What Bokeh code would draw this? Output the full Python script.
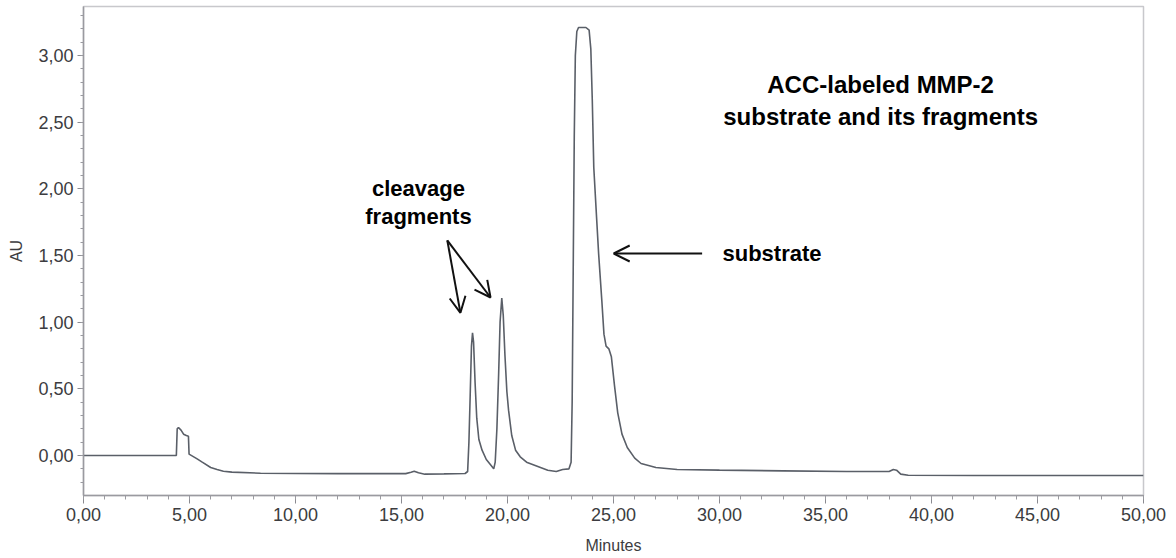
from bokeh.plotting import figure
from bokeh.models import (Range1d, SingleIntervalTicker, CustomJSTickFormatter,
                          Label, Arrow, OpenHead, ColumnDataSource)
from bokeh.embed import file_html
from bokeh.resources import INLINE

# ---- data ----
minutes = [0.0, 4.38, 4.42, 4.48, 4.6, 4.72, 4.85, 4.95, 4.98, 5.2, 5.36, 5.6, 6.0, 6.3, 6.6,
           7.0, 8.35, 10.0, 12.0, 15.2, 15.45, 15.6, 15.8, 16.1, 17.0, 18.0,
           18.12, 18.18, 18.24, 18.3, 18.35, 18.4, 18.47, 18.55, 18.65, 18.8, 19.0, 19.2, 19.35,
           19.42, 19.5, 19.58, 19.65, 19.73, 19.8, 19.88, 19.97, 20.05, 20.2, 20.38, 20.6, 20.9,
           21.4, 21.9, 22.3, 22.6, 22.9, 23.0,
           23.05, 23.1, 23.15, 23.2, 23.27, 23.35, 23.7, 23.85, 23.93, 24.0, 24.07, 24.2, 24.3,
           24.45, 24.55, 24.65, 24.78, 24.9, 25.05, 25.2, 25.4, 25.65, 26.0, 26.3, 27.0, 28.0,
           30.0, 33.0, 36.0, 38.0, 38.2, 38.35, 38.55, 38.9, 42.0, 50.0]
au = [0.0, 0.0, 0.2, 0.21, 0.19, 0.16, 0.15, 0.145, 0.01, -0.01, -0.025, -0.05, -0.09, -0.105, -0.118,
      -0.125, -0.133, -0.135, -0.136, -0.136, -0.125, -0.118, -0.13, -0.14, -0.138, -0.135,
      -0.12, 0.1, 0.45, 0.82, 0.92, 0.85, 0.55, 0.28, 0.12, 0.04, -0.03, -0.07, -0.1,
      -0.05, 0.2, 0.6, 1.0, 1.18, 1.05, 0.75, 0.48, 0.34, 0.15, 0.04, -0.01, -0.05,
      -0.08, -0.11, -0.12, -0.105, -0.1, -0.05,
      0.4, 1.4, 2.4, 3.0, 3.18, 3.21, 3.21, 3.19, 3.05, 2.66, 2.16, 1.79, 1.51,
      1.16, 0.91, 0.82, 0.80, 0.74, 0.52, 0.32, 0.16, 0.06, -0.02, -0.06, -0.09, -0.105,
      -0.11, -0.115, -0.12, -0.12, -0.105, -0.11, -0.14, -0.148, -0.15, -0.15]

x_tick_step = 5
y_tick_step = 0.5

title_lines = ["ACC-labeled MMP-2", "substrate and its fragments"]
fragment_lines = ["cleavage", "fragments"]
substrate_label = "substrate"

FONT = "Liberation Sans"

p = figure(width=1176, height=558, output_backend="svg", toolbar_location=None,
           x_range=Range1d(0, 50), y_range=Range1d(-0.3, 3.3675),
           min_border_left=83, min_border_right=33, min_border_top=6, min_border_bottom=63)
p.background_fill_color = "white"
p.border_fill_color = "white"
p.outline_line_color = "#c8c8cc"
p.outline_line_width = 1.5
p.grid.visible = False

p.xaxis.ticker = SingleIntervalTicker(interval=x_tick_step, num_minor_ticks=5)
p.yaxis.ticker = SingleIntervalTicker(interval=y_tick_step, num_minor_ticks=5)
fmt = CustomJSTickFormatter(code="return tick.toFixed(2).replace('.', ',');")
p.xaxis.formatter = fmt
p.yaxis.formatter = fmt

for ax in (p.xaxis, p.yaxis):
    ax.axis_line_color = "#9a9aa0"
    ax.axis_line_width = 1.5
    ax.major_tick_line_color = "#8a8a90"
    ax.minor_tick_line_color = "#9a9aa0"
    ax.major_tick_in = 0
    ax.minor_tick_in = 0
    ax.major_label_text_font = FONT
    ax.major_label_text_font_size = "18px"
    ax.major_label_text_color = "#3c3c40"
    ax.axis_label_text_font = FONT
    ax.axis_label_text_font_size = "16px"
    ax.axis_label_text_font_style = "normal"
    ax.axis_label_text_color = "#3c3c40"

p.xaxis.major_tick_out = 8
p.xaxis.minor_tick_out = 4
p.yaxis.major_tick_out = 6
p.yaxis.minor_tick_out = 3
p.xaxis.axis_label = "Minutes"
p.yaxis.axis_label = "AU"
p.xaxis.major_label_standoff = 4
p.yaxis.major_label_standoff = 4
p.xaxis.axis_label_standoff = 13
p.yaxis.axis_label_standoff = 10

src = ColumnDataSource(data=dict(t=minutes, a=au))
p.line("t", "a", source=src, line_color="#5a5f68", line_width=1.6)

# annotations
p.add_layout(Label(x=37.6, y=2.785, text=title_lines[0], text_align="center", text_baseline="middle",
                   text_font=FONT, text_font_style="bold", text_font_size="24px", text_color="black"))
p.add_layout(Label(x=37.6, y=2.54, text=title_lines[1], text_align="center", text_baseline="middle",
                   text_font=FONT, text_font_style="bold", text_font_size="24px", text_color="black"))
p.add_layout(Label(x=15.8, y=2.0, text=fragment_lines[0], text_align="center", text_baseline="middle",
                   text_font=FONT, text_font_style="bold", text_font_size="22px", text_color="black"))
p.add_layout(Label(x=15.8, y=1.79, text=fragment_lines[1], text_align="center", text_baseline="middle",
                   text_font=FONT, text_font_style="bold", text_font_size="22px", text_color="black"))
p.add_layout(Label(x=30.14, y=1.515, text=substrate_label, text_align="left", text_baseline="middle",
                   text_font=FONT, text_font_style="bold", text_font_size="22px", text_color="black"))

for (xs, ys, xe, ye) in [(17.16, 1.613, 17.78, 1.07), (17.16, 1.613, 19.2, 1.185), (29.18, 1.515, 25.01, 1.515)]:
    p.add_layout(Arrow(end=OpenHead(size=16, line_width=2, line_color="#111111"),
                       x_start=xs, y_start=ys, x_end=xe, y_end=ye,
                       line_width=2, line_color="#111111"))

open("out.html", "w").write(file_html(p, INLINE))
